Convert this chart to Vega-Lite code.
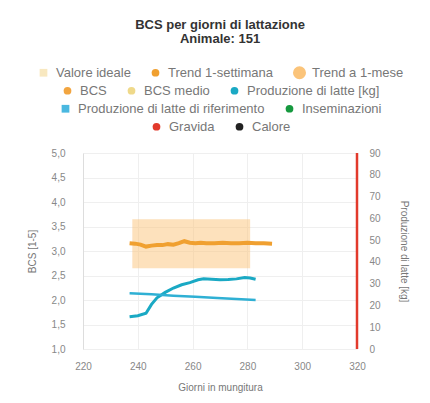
{
  "$schema": "https://vega.github.io/schema/vega-lite/v6.json",
  "autosize": {"type": "none"},
  "padding": {"left": 83, "top": 153, "right": 73, "bottom": 54},
  "width": 274,
  "height": 196,
  "background": "white",
  "title": {"text": ["BCS per giorni di lattazione", "Animale: 151"], "anchor": "middle", "fontSize": 13, "fontWeight": "bold", "color": "#333", "lineHeight": 14, "offset": 20},
  "config": {
    "font": "Liberation Sans",
    "view": {"stroke": null},
    "axis": {"labelFontSize": 10, "labelColor": "#888", "titleFontSize": 10, "titleColor": "#777", "titleFontWeight": "normal", "ticks": false, "gridColor": "#efefef", "domainColor": "#dddddd"},
    "legend": {
      "orient": "top", "direction": "horizontal", "title": null,
      "labelFontSize": 13, "labelColor": "#777", "labelLimit": 400, "labelOffset": 6,
      "symbolOpacity": 1, "symbolStrokeWidth": 0, "symbolType": "circle", "symbolSize": 60,
      "columnPadding": 18, "offset": 19,
      "layout": {"top": {"anchor": "middle", "direction": "vertical", "margin": 4, "center": true}}
    }
  },
  "datasets": {
    "banda": [
      {"giorno": 238, "lo": 2.65, "hi": 3.65, "serie": "Trend a 1-mese"},
      {"giorno": 245, "lo": 2.65, "hi": 3.65, "serie": "Trend a 1-mese"},
      {"giorno": 252, "lo": 2.65, "hi": 3.65, "serie": "Trend a 1-mese"},
      {"giorno": 259, "lo": 2.65, "hi": 3.65, "serie": "Trend a 1-mese"},
      {"giorno": 266, "lo": 2.65, "hi": 3.65, "serie": "Trend a 1-mese"},
      {"giorno": 273, "lo": 2.65, "hi": 3.65, "serie": "Trend a 1-mese"},
      {"giorno": 281, "lo": 2.65, "hi": 3.65, "serie": "Trend a 1-mese"}
    ],
    "trend": [
      {"giorno": 237, "bcs": 3.16, "serie": "Trend 1-settimana"},
      {"giorno": 239, "bcs": 3.15, "serie": "Trend 1-settimana"},
      {"giorno": 241, "bcs": 3.13, "serie": "Trend 1-settimana"},
      {"giorno": 243, "bcs": 3.09, "serie": "Trend 1-settimana"},
      {"giorno": 245, "bcs": 3.11, "serie": "Trend 1-settimana"},
      {"giorno": 247, "bcs": 3.12, "serie": "Trend 1-settimana"},
      {"giorno": 249, "bcs": 3.12, "serie": "Trend 1-settimana"},
      {"giorno": 251, "bcs": 3.14, "serie": "Trend 1-settimana"},
      {"giorno": 253, "bcs": 3.13, "serie": "Trend 1-settimana"},
      {"giorno": 255, "bcs": 3.16, "serie": "Trend 1-settimana"},
      {"giorno": 257, "bcs": 3.2, "serie": "Trend 1-settimana"},
      {"giorno": 259, "bcs": 3.17, "serie": "Trend 1-settimana"},
      {"giorno": 261, "bcs": 3.16, "serie": "Trend 1-settimana"},
      {"giorno": 263, "bcs": 3.17, "serie": "Trend 1-settimana"},
      {"giorno": 265, "bcs": 3.16, "serie": "Trend 1-settimana"},
      {"giorno": 268, "bcs": 3.16, "serie": "Trend 1-settimana"},
      {"giorno": 271, "bcs": 3.17, "serie": "Trend 1-settimana"},
      {"giorno": 274, "bcs": 3.16, "serie": "Trend 1-settimana"},
      {"giorno": 277, "bcs": 3.16, "serie": "Trend 1-settimana"},
      {"giorno": 280, "bcs": 3.17, "serie": "Trend 1-settimana"},
      {"giorno": 283, "bcs": 3.16, "serie": "Trend 1-settimana"},
      {"giorno": 286, "bcs": 3.16, "serie": "Trend 1-settimana"},
      {"giorno": 289, "bcs": 3.15, "serie": "Trend 1-settimana"}
    ],
    "latte": [
      {"giorno": 237, "kg": 14.8, "serie": "Produzione di latte [kg]"},
      {"giorno": 240, "kg": 15.3, "serie": "Produzione di latte [kg]"},
      {"giorno": 243, "kg": 16.4, "serie": "Produzione di latte [kg]"},
      {"giorno": 245, "kg": 20.5, "serie": "Produzione di latte [kg]"},
      {"giorno": 247, "kg": 23.5, "serie": "Produzione di latte [kg]"},
      {"giorno": 250, "kg": 26.0, "serie": "Produzione di latte [kg]"},
      {"giorno": 253, "kg": 28.0, "serie": "Produzione di latte [kg]"},
      {"giorno": 256, "kg": 29.5, "serie": "Produzione di latte [kg]"},
      {"giorno": 259, "kg": 30.5, "serie": "Produzione di latte [kg]"},
      {"giorno": 262, "kg": 31.8, "serie": "Produzione di latte [kg]"},
      {"giorno": 264, "kg": 32.2, "serie": "Produzione di latte [kg]"},
      {"giorno": 267, "kg": 32.0, "serie": "Produzione di latte [kg]"},
      {"giorno": 270, "kg": 31.8, "serie": "Produzione di latte [kg]"},
      {"giorno": 273, "kg": 31.9, "serie": "Produzione di latte [kg]"},
      {"giorno": 276, "kg": 32.2, "serie": "Produzione di latte [kg]"},
      {"giorno": 279, "kg": 32.8, "serie": "Produzione di latte [kg]"},
      {"giorno": 281, "kg": 32.6, "serie": "Produzione di latte [kg]"},
      {"giorno": 283, "kg": 32.0, "serie": "Produzione di latte [kg]"}
    ],
    "riferimento": [
      {"giorno": 237, "kg": 25.6, "serie": "Produzione di latte di riferimento"},
      {"giorno": 245, "kg": 25.1, "serie": "Produzione di latte di riferimento"},
      {"giorno": 253, "kg": 24.5, "serie": "Produzione di latte di riferimento"},
      {"giorno": 261, "kg": 24.0, "serie": "Produzione di latte di riferimento"},
      {"giorno": 269, "kg": 23.4, "serie": "Produzione di latte di riferimento"},
      {"giorno": 276, "kg": 23.0, "serie": "Produzione di latte di riferimento"},
      {"giorno": 283, "kg": 22.5, "serie": "Produzione di latte di riferimento"}
    ],
    "eventi": [
      {"giorno": 320, "evento": "Gravida"}
    ]
  },
  "encoding": {
    "x": {"field": "giorno", "type": "quantitative", "scale": {"domain": [220, 320], "nice": false}, "axis": {"title": "Giorni in mungitura", "values": [220, 240, 260, 280, 300, 320], "labelFlush": false, "domain": false, "grid": true, "labelPadding": 12, "titlePadding": 11}}
  },
  "layer": [
    {
      "layer": [
        {
          "data": {"name": "banda"},
          "mark": {"type": "area", "opacity": 0.5},
          "encoding": {
            "y": {"field": "hi", "type": "quantitative"},
            "y2": {"field": "lo"}
          }
        },
        {
          "data": {"name": "trend"},
          "mark": {"type": "line", "strokeWidth": 4},
          "encoding": {
            "y": {"field": "bcs", "type": "quantitative"}
          }
        }
      ],
      "encoding": {
        "y": {"type": "quantitative", "scale": {"domain": [1, 5], "nice": false}, "axis": {"orient": "left", "title": "BCS [1-5]", "values": [1, 1.5, 2, 2.5, 3, 3.5, 4, 4.5, 5], "labelExpr": "replace(format(datum.value, '.1f'), '.', ',')", "grid": true, "labelPadding": 18, "titlePadding": 14}},
        "color": {"field": "serie", "type": "nominal", "scale": {"domain": ["Valore ideale", "Trend 1-settimana", "Trend a 1-mese"], "range": ["#f8e8c0", "#f0a030", "#fbc47a"]},
          "legend": {"encode": {"symbols": {"update": {
            "fill": {"signal": "datum.value==='Valore ideale'?'#f8e8c0':datum.value==='Trend 1-settimana'?'#f0a030':'#fbc47a'"},
            "shape": {"signal": "datum.value==='Valore ideale'?'square':'circle'"},
            "size": {"signal": "datum.value==='Trend a 1-mese'?170:60"}
          }}}}
        }
      }
    },
    {
      "data": {"name": "latte"},
      "mark": {"type": "line", "strokeWidth": 3},
      "encoding": {
        "y": {"field": "kg", "type": "quantitative", "scale": {"domain": [0, 90], "nice": false}, "axis": {"orient": "right", "title": "Produzione di latte [kg]", "values": [0, 10, 20, 30, 40, 50, 60, 70, 80, 90], "grid": false, "domain": false, "labelPadding": 12, "titlePadding": 18}},
        "color": {"field": "serie", "type": "nominal", "scale": {"domain": ["BCS", "BCS medio", "Produzione di latte [kg]"], "range": ["#f2a540", "#efd98a", "#1aa9c4"]},
          "legend": {"symbolType": "circle", "encode": {"symbols": {"update": {
            "fill": {"signal": "datum.value==='BCS'?'#f2a540':datum.value==='BCS medio'?'#efd98a':'#1aa9c4'"}
          }}}}
        }
      }
    },
    {
      "data": {"name": "riferimento"},
      "mark": {"type": "line", "strokeWidth": 2.5},
      "encoding": {
        "y": {"field": "kg", "type": "quantitative", "scale": {"domain": [0, 90], "nice": false}, "axis": null},
        "color": {"field": "serie", "type": "nominal", "scale": {"domain": ["Produzione di latte di riferimento", "Inseminazioni"], "range": ["#2fb0d4", "#16993f"]},
          "legend": {"symbolType": "circle", "encode": {"symbols": {"update": {
            "fill": {"signal": "datum.value==='Inseminazioni'?'#16993f':'#4ab8e0'"},
            "shape": {"signal": "datum.value==='Inseminazioni'?'circle':'square'"}
          }}}}
        }
      }
    },
    {
      "data": {"name": "eventi"},
      "mark": {"type": "rule", "strokeWidth": 2.5},
      "encoding": {
        "color": {"field": "evento", "type": "nominal", "scale": {"domain": ["Gravida", "Calore"], "range": ["#e23a2c", "#222222"]},
          "legend": {"symbolType": "circle", "encode": {"symbols": {"update": {
            "fill": {"signal": "datum.value==='Gravida'?'#e23a2c':'#222222'"}
          }}}}
        }
      }
    }
  ],
  "resolve": {"scale": {"y": "independent", "color": "independent"}}
}
